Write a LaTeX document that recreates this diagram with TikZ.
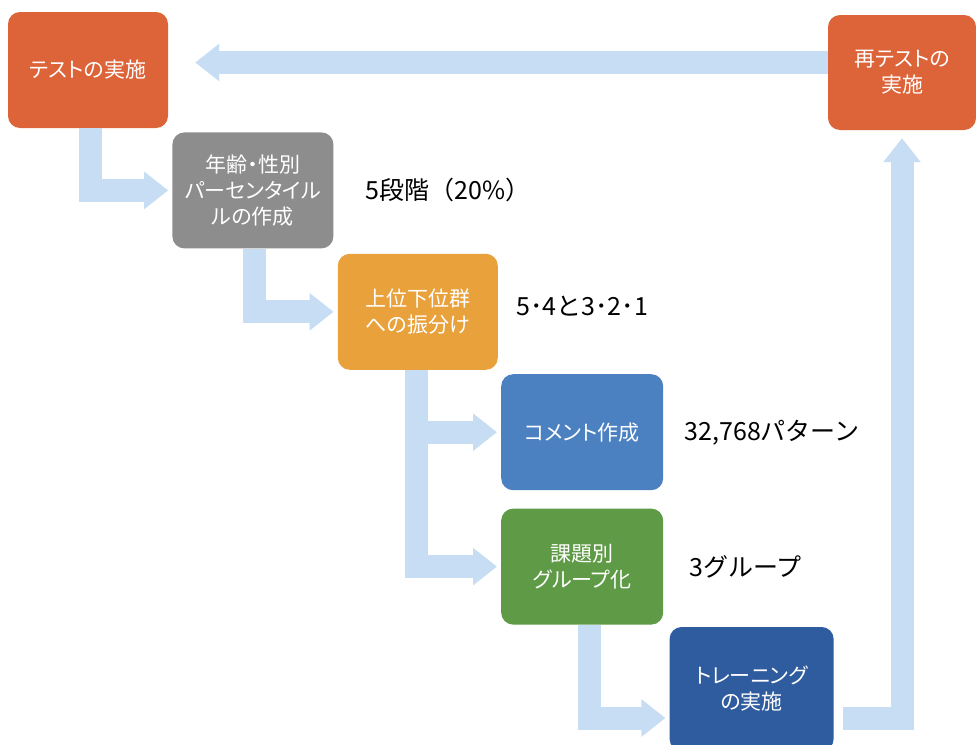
\documentclass[tikz,border=0pt]{standalone}
\usepackage{fontspec}
\setmainfont{Noto Sans CJK JP}
\newfontfamily\stagefont[RawFeature=+palt]{Noto Sans CJK JP}
\usetikzlibrary{positioning,arrows.meta}

\definecolor{testred}{HTML}{DD6339}
\definecolor{pctgray}{HTML}{8D8D8D}
\definecolor{divorange}{HTML}{E9A23B}
\definecolor{cmtblue}{HTML}{4B80C1}
\definecolor{grpgreen}{HTML}{5F9B46}
\definecolor{trnblue}{HTML}{2F5B9F}
\definecolor{flowblue}{HTML}{C7DDF3}

\tikzset{
  stage/.style={rounded corners=12pt, minimum width=160pt, minimum height=116pt,
    text=white, align=center, inner sep=4pt, font=\stagefont\fontsize{21}{26}\selectfont},
  flow/.style={draw=flowblue, line width=23pt,
    -{Triangle[width=36pt,length=24pt]}, shorten >=4pt},
  note/.style={inner sep=0pt, font=\fontsize{25}{30}\selectfont}
}

\begin{document}
\begin{tikzpicture}[x=1pt,y=-1pt]
    \useasboundingbox[fill=white] (0,0) rectangle (976,744);

    % Define nodes
    \node[stage, fill=testred]		(test)		at (88,70) {テストの実施};
    \node[stage, fill=pctgray, below right = 4pt and 4pt of test.south east, anchor=north west, minimum width=161pt]		(perc)		{年齢・性別\\パーセンタイル\\ルの作成};
    \node[stage, fill=divorange, below right = 5pt and 4pt of perc.south east, anchor=north west]		(div)		{上位下位群\\への振分け};
    \node[stage, fill=cmtblue, below right = 4pt and 3pt of div.south east, anchor=north west, minimum width=162pt]		(cmt)		{コメント作成};
    \node[stage, fill=grpgreen, below = 18pt of cmt, minimum width=162pt]		(grp)		{課題別\\グループ化};
    \node[stage, fill=trnblue, below right = 2pt and 6pt of grp.south east, anchor=north west, minimum width=164pt, minimum height=124pt]		(train)		{トレーニング\\の実施};
    \node[stage, fill=testred, minimum width=148pt, minimum height=115pt]		(retest)		at (902,72.5) {再テストの\\実施};

    % Add notes
    \node[note, right = 32pt of perc]		(pctnote)		{5段階（20\%）};
    \node[note, right = 18pt of div, yshift=6pt]		(divnote)		{5･4と3･2･1};
    \node[note, right = 21pt of cmt]		(cmtnote)		{32,768パターン};
    \node[note, right = 26pt of grp]		(grpnote)		{3グループ};

    % Connect nodes
    \draw[flow] ([xshift=2pt]test.south) |- (perc.west);
    \draw[flow] ([xshift=1.5pt]perc.south) |- (div.west);
    \draw[flow] ([xshift=-1pt]div.south) |- (cmt.west);
    \draw[flow] ([xshift=-1pt]div.south) |- (grp.west);
    \draw[flow] ([xshift=7pt]grp.south) |- ([yshift=-29pt]train.west);
    \draw[flow, shorten <=9pt, shorten >=8pt] ([yshift=-29pt]train.east) -| (retest.south);
    \draw[flow, shorten >=27pt] ([yshift=10pt]retest.west) -- ([yshift=10pt]retest.west -| test.east);
\end{tikzpicture}
\end{document}
